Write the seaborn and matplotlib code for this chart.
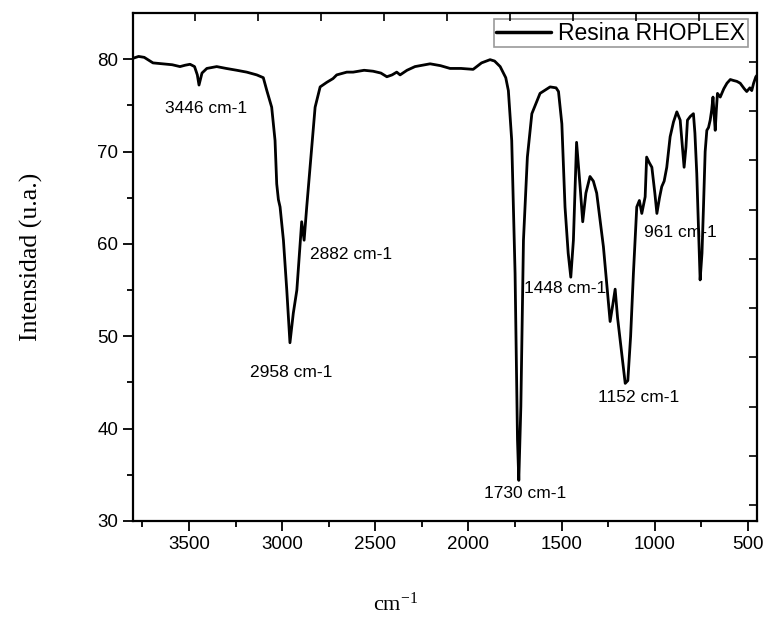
import numpy as np
import pandas as pd
import matplotlib.pyplot as plt
import seaborn as sns

# FTIR spectrum (wavenumber cm-1, intensity u.a.)
wavenumber = [3800, 3770, 3740, 3693, 3639, 3590, 3548, 3520, 3494, 3470,
              3455, 3446, 3430, 3404, 3351, 3300, 3243, 3190, 3136, 3101,
              3082, 3056, 3049, 3038, 3029, 3020, 3011, 2993, 2975, 2958,
              2940, 2921, 2895, 2882, 2868, 2850, 2823, 2796, 2760, 2727,
              2707, 2653, 2619, 2560, 2512, 2470, 2438, 2410, 2385, 2367,
              2330, 2287, 2206, 2150, 2099, 2040, 1975, 1930, 1884, 1860,
              1830, 1800, 1786, 1768, 1750, 1737, 1730, 1719, 1705, 1684,
              1660, 1616, 1562, 1530, 1517, 1499, 1482, 1465, 1451, 1437,
              1428, 1420, 1410, 1401, 1387, 1370, 1348, 1330, 1312, 1276,
              1240, 1225, 1213, 1200, 1186, 1159, 1145, 1130, 1115, 1097,
              1083, 1070, 1052, 1044, 1030, 1016, 1000, 989, 975, 963,
              950, 936, 918, 900, 882, 864, 850, 843, 833, 825,
              810, 793, 785, 775, 765, 757, 747, 739, 730, 721,
              712, 703, 695, 688, 682, 676, 670, 664, 649, 630,
              613, 595, 579, 560, 542, 520, 507, 490, 480, 470, 458, 450]
intensity = [80.1, 80.3, 80.2, 79.6, 79.5, 79.4, 79.2, 79.35, 79.45, 79.2,
             78.3, 77.2, 78.5, 79.0, 79.2, 79.0, 78.8, 78.6, 78.3, 78.0,
             76.6, 74.8, 73.4, 71.2, 66.5, 64.8, 64.0, 60.4, 55.0, 49.3,
             52.5, 55.0, 62.4, 60.4, 64.0, 68.3, 74.8, 77.0, 77.5, 77.9,
             78.3, 78.6, 78.6, 78.8, 78.7, 78.5, 78.1, 78.3, 78.6, 78.3,
             78.8, 79.2, 79.5, 79.3, 79.0, 79.0, 78.9, 79.6, 79.95, 79.8,
             79.2, 78.0, 76.6, 71.2, 56.8, 38.8, 34.4, 42.4, 60.4, 69.4,
             74.1, 76.3, 77.0, 76.9, 76.5, 73.0, 64.0, 59.0, 56.4, 60.4,
             66.0, 71.0, 68.5, 66.2, 62.4, 65.5, 67.3, 66.8, 65.5, 59.7,
             51.6, 53.5, 55.1, 52.0, 49.6, 44.9, 45.2, 50.0, 56.8, 64.0,
             64.7, 63.3, 65.1, 69.4, 68.8, 68.3, 65.5, 63.3, 65.0, 66.2,
             66.8, 68.3, 71.6, 73.2, 74.3, 73.4, 70.0, 68.3, 70.5, 73.4,
             73.8, 74.1, 72.0, 67.6, 61.0, 56.1, 59.0, 64.0, 70.0, 72.3,
             72.6, 73.4, 74.5, 75.9, 74.0, 72.3, 74.5, 76.3, 75.9, 76.8,
             77.4, 77.8, 77.7, 77.6, 77.4, 76.8, 76.5, 76.9, 76.6, 77.4,
             78.1, 78.3]

# peak annotations: text, x, y (data units)
peak_labels = ["3446 cm-1", "2882 cm-1", "2958 cm-1", "1730 cm-1",
               "1448 cm-1", "961 cm-1", "1152 cm-1"]
peak_x = [3406, 2628, 2949, 1698, 1480, 864, 1088]
peak_y = [74.7, 58.9, 46.05, 33.0, 55.2, 61.2, 43.4]

df = pd.DataFrame({"wn": wavenumber, "I": intensity})

sns.set_style("ticks")
plt.rcParams["font.family"] = ["Liberation Sans", "DejaVu Sans"]
plt.rcParams["text.color"] = "black"
plt.rcParams["axes.labelcolor"] = "black"

fig = plt.figure(figsize=(7.65, 6.17), dpi=100)
ax = fig.add_axes([0.1739, 0.1556, 0.8156, 0.8233])

sns.lineplot(data=df, x="wn", y="I", color="black", linewidth=2.0,
             estimator=None, sort=False, ax=ax, label="Resina RHOPLEX")

ax.set_xlim(3800, 452)
ax.set_ylim(30, 85)
ax.set_xticks([3500, 3000, 2500, 2000, 1500, 1000, 500])
ax.set_xticks(np.arange(3750, 450, -500), minor=True)
ax.set_yticks([30, 40, 50, 60, 70, 80])
ax.set_yticks([35, 45, 55, 65, 75], minor=True)
ax.tick_params(axis="both", which="major", labelsize=13.5, length=7,
               width=1.3, direction="out", colors="black")
ax.tick_params(axis="both", which="minor", length=4, width=1.3,
               direction="out", colors="black")
for s in ax.spines.values():
    s.set_linewidth(1.6)
    s.set_visible(True)
    s.set_color("black")

# odd frame ticks on top and right (inward)
top = ax.twiny()
top.set_xlim(ax.get_xlim())
top.set_xticks(3467 - 338 * np.arange(9))
top.set_xticklabels([])
top.tick_params(axis="x", direction="in", length=6, width=1.2, colors="black")
right = ax.twinx()
right.set_ylim(ax.get_ylim())
right.set_yticks(79.7 - 5.33 * np.arange(10))
right.set_yticklabels([])
right.tick_params(axis="y", direction="in", length=6, width=1.2, colors="black")
for a in (top, right):
    for s in a.spines.values():
        s.set_visible(False)

for t, x, y in zip(peak_labels, peak_x, peak_y):
    ax.text(x, y, t, fontsize=12.5, ha="center", va="center", color="black")

ax.set_xlabel(r"$\mathregular{cm^{-1}}$", fontsize=16, family="Liberation Serif")
ax.xaxis.set_label_coords(0.42, -0.14)
ax.set_ylabel("Intensidad (u.a.)", fontsize=18.5, family="Liberation Serif")
ax.yaxis.set_label_coords(-0.144, 0.52)

leg = ax.legend(loc="upper right", bbox_to_anchor=(0.985, 0.9876),
                borderaxespad=0, fontsize=16.5, frameon=True, fancybox=False,
                edgecolor="gray", handlelength=2.4, handletextpad=0.3,
                borderpad=0.1)
leg.get_frame().set_linewidth(1.2)
for line in leg.get_lines():
    line.set_linewidth(2.5)

fig.savefig("out.png", dpi=100)
